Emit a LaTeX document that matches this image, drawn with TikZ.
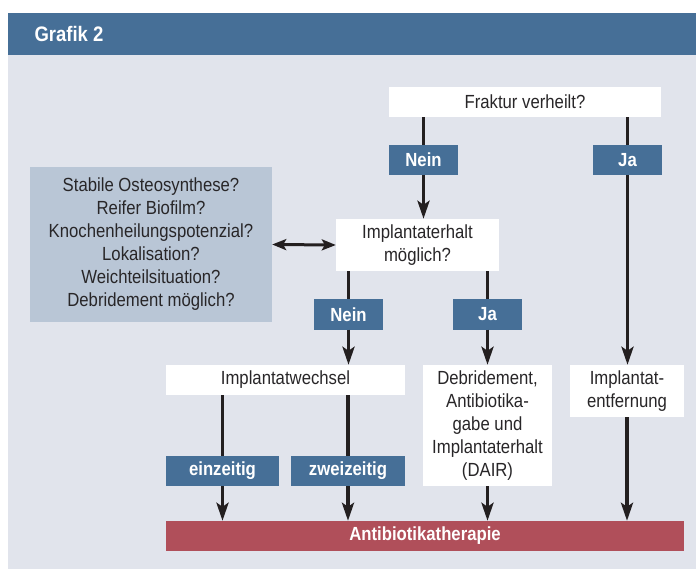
\documentclass[tikz,border=0pt]{standalone}
\usepackage{fontspec}
\setmainfont{Liberation Sans}[FakeStretch=0.88]
\usetikzlibrary{arrows.meta}

\definecolor{kopfblau}{RGB}{70,111,151}
\definecolor{flaechegrau}{RGB}{225,228,236}
\definecolor{kastengrau}{RGB}{185,198,214}
\definecolor{therapierot}{RGB}{176,79,90}
\definecolor{pfeilschwarz}{RGB}{35,31,32}
\definecolor{schriftgrau}{RGB}{40,38,40}

\begin{document}
\begin{tikzpicture}[x=1pt,y=-1pt,font=\fontsize{19}{23}\selectfont]
    \tikzstyle{frage}=[rectangle,fill=white,text=schriftgrau,align=center,inner sep=0pt]
    \tikzstyle{antwort}=[rectangle,fill=kopfblau,text=white,font=\fontsize{19}{23}\selectfont\bfseries,inner sep=0pt,minimum height=30pt]
    \tikzstyle{linie}=[draw=pfeilschwarz,line width=3.5pt]
    \tikzstyle{pfeil}=[linie,-{Stealth[length=18pt,width=12pt,inset=4pt]}]

    \useasboundingbox (0,0) rectangle (696,569);
    \fill[white] (0,0) rectangle (696,569);
    \fill[kopfblau] (8,13) rectangle (696,55);
    \fill[flaechegrau] (8,55) rectangle (696,569);
    \node[anchor=west,text=white,font=\fontsize{21}{24}\selectfont\bfseries] (titel) at (31,34) {Grafik 2};

    % Fragen und Antworten
    \node[frage,minimum width=272pt,minimum height=30pt] (fraktur) at (525,102) {Fraktur verheilt?};
    \node[antwort,minimum width=69pt] (nein1) at (423.5,160) {Nein};
    \node[antwort,minimum width=69pt] (ja1) at (627.5,160) {Ja};

    \node[rectangle,fill=kastengrau,text=schriftgrau,align=center,inner sep=0pt,
          minimum width=242pt,minimum height=155pt] (kriterien) at (151,244.5)
          {Stabile Osteosynthese?\\Reifer Biofilm?\\Knochenheilungspotenzial?\\Lokalisation?\\Weichteilsituation?\\Debridement möglich?};
    \node[frage,minimum width=163pt,minimum height=52pt] (erhalt) at (417.5,245) {Implantaterhalt\\möglich?};

    \node[antwort,minimum width=69pt] (nein2) at (348.5,314.5) {Nein};
    \node[antwort,minimum width=69pt] (ja2) at (487.5,314.5) {Ja};

    \node[frage,minimum width=239pt,minimum height=30pt] (wechsel) at (285.5,380) {Implantatwechsel};
    \node[frage,minimum width=129pt,minimum height=121pt] (dair) at (487.5,425.5)
          {Debridement,\\Antibiotika-\\gabe und\\Implantaterhalt\\(DAIR)};
    \node[frage,minimum width=114pt,minimum height=52pt] (entfernung) at (627,391) {Implantat-\\entfernung};

    \node[antwort,minimum width=113pt] (einzeitig) at (222.5,471) {einzeitig};
    \node[antwort,minimum width=114pt] (zweizeitig) at (348,471) {zweizeitig};

    \node[antwort,fill=therapierot,minimum width=518pt] (therapie) at (425,536) {Antibiotikatherapie};

    % Verbindungen
    \draw[linie] (fraktur.south -| nein1) -- (nein1.north);
    \draw[pfeil] (nein1.south) -- (nein1.south |- erhalt.north);
    \draw[linie] (fraktur.south -| ja1) -- (ja1.north);
    \draw[pfeil] (ja1.south) -- (ja1.south |- entfernung.north);

    \draw[draw=pfeilschwarz,line width=3pt,{Stealth[length=14pt,width=11pt,inset=3pt]}-{Stealth[length=14pt,width=11pt,inset=3pt]}]
          (kriterien.east) -- (erhalt.west);

    \draw[linie] (erhalt.south -| nein2) -- (nein2.north);
    \draw[pfeil] (nein2.south) -- (nein2.south |- wechsel.north);
    \draw[linie] (erhalt.south -| ja2) -- (ja2.north);
    \draw[pfeil] (ja2.south) -- (dair.north);

    \draw[linie] (wechsel.south -| einzeitig) -- (einzeitig.north);
    \draw[pfeil] (einzeitig.south) -- (einzeitig.south |- therapie.north);
    \draw[linie] (wechsel.south -| zweizeitig) -- (zweizeitig.north);
    \draw[pfeil] (zweizeitig.south) -- (zweizeitig.south |- therapie.north);
    \draw[pfeil] (dair.south) -- (dair.south |- therapie.north);
    \draw[pfeil] (entfernung.south) -- (entfernung.south |- therapie.north);

\end{tikzpicture}
\end{document}
